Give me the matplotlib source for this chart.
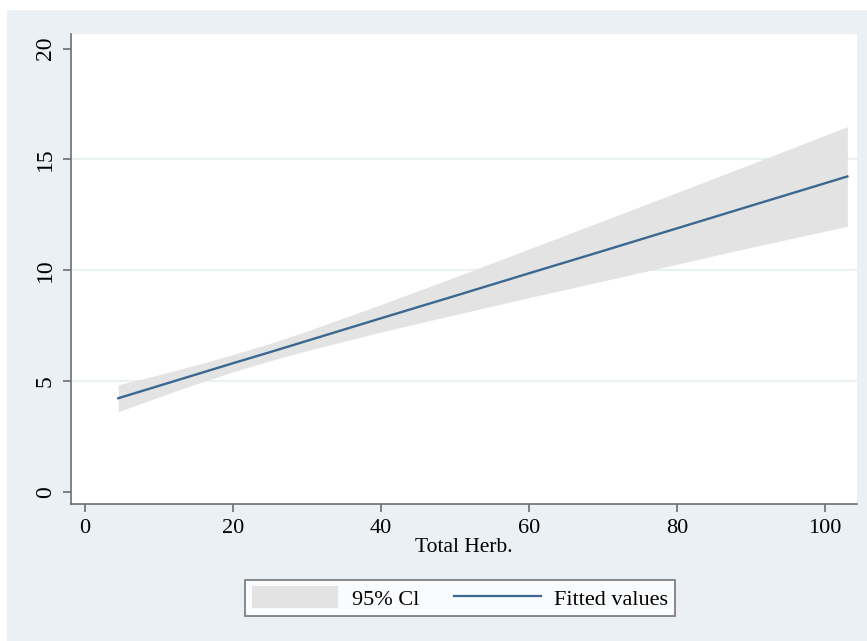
import matplotlib
matplotlib.use("Agg")
import matplotlib.pyplot as plt
from matplotlib.patches import Patch, Rectangle
from matplotlib.lines import Line2D

# Data
total_herb = [4.5, 10, 15, 20, 25, 30, 40, 50, 60, 70, 80, 90, 103]
fitted = [4.22, 4.78, 5.29, 5.80, 6.30, 6.81, 7.83, 8.84, 9.86, 10.87, 11.89, 12.91, 14.23]
ci_lower = [3.61, 4.28, 4.86, 5.41, 5.91, 6.37, 7.21, 7.99, 8.76, 9.51, 10.27, 11.03, 11.98]
ci_upper = [4.83, 5.28, 5.72, 6.19, 6.69, 7.25, 8.45, 9.69, 10.96, 12.23, 13.51, 14.79, 16.48]
x_ticks = [0, 20, 40, 60, 80, 100]
y_ticks = [0, 5, 10, 15, 20]
legend_labels = ["95% Cl", "Fitted values"]

W, H = 867, 641
fig = plt.figure(figsize=(W / 100, H / 100), dpi=100, facecolor="white")
bg = "#eaf0f3"
fig.patches.append(Rectangle((7 / W, 0), 1, (H - 10) / H, transform=fig.transFigure,
                             facecolor=bg, edgecolor="none", zorder=-10))

left, right, top, bottom = 71, 857, 34, 504
ax = fig.add_axes([left / W, (H - bottom) / H, (right - left) / W, (bottom - top) / H])
ax.set_facecolor("white")

serif = ["Liberation Serif", "DejaVu Serif"]

for g in [5, 10, 15]:
    ax.axhline(g, color="#e6eff1", lw=1.2, zorder=0)

ax.fill_between(total_herb, ci_lower, ci_upper, color="#e3e3e3", lw=0, zorder=1)
ax.plot(total_herb, fitted, color="#3a6890", lw=1.7, zorder=2)

ax.set_xlim(-1.89, 104.3)
ax.set_ylim(-0.555, 20.66)
ax.set_xticks(x_ticks)
ax.set_yticks(y_ticks)
ax.set_xticklabels([str(t) for t in x_ticks], fontfamily=serif, fontsize=16)
ax.set_yticklabels([str(t) for t in y_ticks], fontfamily=serif, fontsize=17, rotation=90, va="center")

for s in ["top", "right"]:
    ax.spines[s].set_visible(False)
for s in ["left", "bottom"]:
    ax.spines[s].set_color("#6e6e6e")
    ax.spines[s].set_linewidth(1.2)
ax.tick_params(axis="both", direction="out", length=6, width=1.2, color="#6e6e6e")
ax.tick_params(axis="x", pad=5)
ax.tick_params(axis="y", pad=5)

ax.set_xlabel("Total Herb.", fontfamily=serif, fontsize=15.5, labelpad=0)

handles = [Patch(facecolor="#e3e3e3", edgecolor="none"),
           Line2D([0], [0], color="#3a6890", lw=1.6)]
leg = fig.legend(handles, legend_labels, loc="center", ncol=2,
                 bbox_to_anchor=(460 / W, 1 - 598 / H),
                 prop={"family": serif, "size": 16},
                 frameon=True, fancybox=False, edgecolor="#555555",
                 handlelength=3.9, handleheight=1.1, handletextpad=0.6,
                 columnspacing=1.6, borderpad=0.3, borderaxespad=0)
leg.get_frame().set_linewidth(1.2)
leg.get_frame().set_facecolor("white")

fig.savefig("out.png", dpi=100, facecolor="white")
